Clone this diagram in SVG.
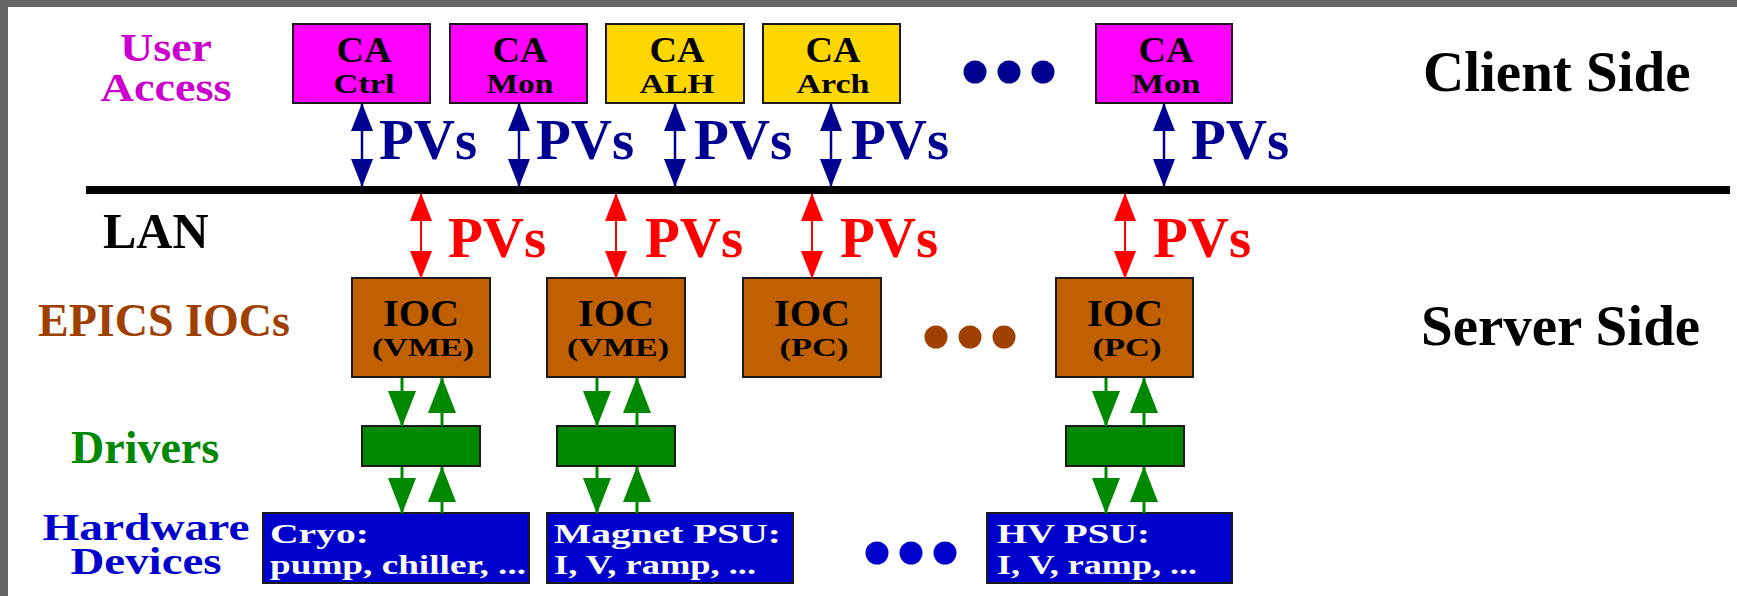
<svg xmlns="http://www.w3.org/2000/svg" width="1737" height="596" viewBox="0 0 1737 596">
<style>
text{font-family:"Liberation Serif","Times New Roman",serif;font-weight:bold}
.box{stroke:#1a1a1a;stroke-width:2}
.ca{fill:#ff00ff}.alh{fill:#ffd700}.ioc{fill:#c06000}.drv{fill:#008800}.dev{fill:#0000cc}
.t1{font-size:36px;text-anchor:middle;fill:#000}
.t2{font-size:28px;text-anchor:middle;fill:#000}
.i1{font-size:38px;text-anchor:middle;fill:#000}
.i2{font-size:26px;text-anchor:middle;fill:#000}
.dt{font-size:28px;fill:#fff}
.pvb{font-size:57px;fill:#000090}
.pvr{font-size:57px;fill:#ff0000}
.side{font-size:57px;fill:#000}
.cb{stroke:#000090;stroke-width:2.5;fill:none;marker-start:url(#ab);marker-end:url(#ab)}
.cr{stroke:#ff0000;stroke-width:2;fill:none;marker-start:url(#ar);marker-end:url(#ar)}
.cg{stroke:#008800;stroke-width:3;fill:none;marker-end:url(#ag)}
</style>
<defs>
<marker id="ab" viewBox="0 0 28 22" refX="27" refY="11" markerWidth="28" markerHeight="22" markerUnits="userSpaceOnUse" orient="auto-start-reverse"><path d="M0,0 L28,11 L0,22 z" fill="#000090"/></marker>
<marker id="ar" viewBox="0 0 28 22" refX="27" refY="11" markerWidth="28" markerHeight="22" markerUnits="userSpaceOnUse" orient="auto-start-reverse"><path d="M0,0 L28,11 L0,22 z" fill="#ff0000"/></marker>
<marker id="ag" viewBox="0 0 36 28" refX="35" refY="14" markerWidth="36" markerHeight="28" markerUnits="userSpaceOnUse" orient="auto"><path d="M0,0 L36,14 L0,28 z" fill="#008800"/></marker>
</defs>
<rect x="0" y="0" width="1737" height="596" fill="#ffffff"/>
<rect x="0" y="0" width="1737" height="7" fill="#666666"/>
<rect x="0" y="0" width="8" height="596" fill="#666666"/>

<g id="labels">
<text x="166" y="61" font-size="40" fill="#cc00cc" text-anchor="middle" textLength="92" lengthAdjust="spacingAndGlyphs">User</text>
<text x="166" y="101" font-size="40" fill="#cc00cc" text-anchor="middle" textLength="131" lengthAdjust="spacingAndGlyphs">Access</text>
<text x="103" y="248" font-size="50" fill="#000">LAN</text>
<text x="38" y="336" font-size="46" fill="#a04000">EPICS IOCs</text>
<text x="71" y="463" font-size="46" fill="#008800">Drivers</text>
<text x="146" y="540" font-size="38" fill="#0000cc" text-anchor="middle" textLength="207" lengthAdjust="spacingAndGlyphs">Hardware</text>
<text x="146" y="574" font-size="38" fill="#0000cc" text-anchor="middle" textLength="151" lengthAdjust="spacingAndGlyphs">Devices</text>
<text class="side" x="1423" y="91">Client Side</text>
<text class="side" x="1421" y="345" font-size="58">Server Side</text>
</g>

<g id="lan"><rect x="86" y="186" width="1644" height="8" fill="#000"/></g>

<g id="ca-ctrl"><rect class="box ca" x="293" y="24" width="137" height="79"/><text class="t1" x="364" y="62" textLength="55" lengthAdjust="spacingAndGlyphs">CA</text><text class="t2" x="364" y="93" textLength="61" lengthAdjust="spacingAndGlyphs">Ctrl</text></g>
<g id="ca-mon1"><rect class="box ca" x="450" y="24" width="137" height="79"/><text class="t1" x="520" y="62" textLength="55" lengthAdjust="spacingAndGlyphs">CA</text><text class="t2" x="520" y="93" textLength="67" lengthAdjust="spacingAndGlyphs">Mon</text></g>
<g id="ca-alh"><rect class="box alh" x="606" y="24" width="138" height="79"/><text class="t1" x="677" y="62" textLength="55" lengthAdjust="spacingAndGlyphs">CA</text><text class="t2" x="677" y="93" textLength="75" lengthAdjust="spacingAndGlyphs">ALH</text></g>
<g id="ca-arch"><rect class="box alh" x="763" y="24" width="137" height="79"/><text class="t1" x="833" y="62" textLength="55" lengthAdjust="spacingAndGlyphs">CA</text><text class="t2" x="833" y="93" textLength="73" lengthAdjust="spacingAndGlyphs">Arch</text></g>
<g id="ca-dots" fill="#000090"><circle cx="975" cy="72" r="11.5"/><circle cx="1009" cy="72" r="11.5"/><circle cx="1043" cy="72" r="11.5"/></g>
<g id="ca-mon2"><rect class="box ca" x="1096" y="24" width="136" height="79"/><text class="t1" x="1166" y="62" textLength="55" lengthAdjust="spacingAndGlyphs">CA</text><text class="t2" x="1166" y="93" textLength="69" lengthAdjust="spacingAndGlyphs">Mon</text></g>

<g id="ioc1"><rect class="box ioc" x="352" y="278" width="138" height="99"/><text class="i1" x="421" y="326" textLength="76" lengthAdjust="spacingAndGlyphs">IOC</text><text class="i2" x="423" y="356" textLength="102" lengthAdjust="spacingAndGlyphs">(VME)</text></g>
<g id="ioc2"><rect class="box ioc" x="547" y="278" width="138" height="99"/><text class="i1" x="616" y="326" textLength="76" lengthAdjust="spacingAndGlyphs">IOC</text><text class="i2" x="618" y="356" textLength="102" lengthAdjust="spacingAndGlyphs">(VME)</text></g>
<g id="ioc3"><rect class="box ioc" x="743" y="278" width="138" height="99"/><text class="i1" x="812" y="326" textLength="76" lengthAdjust="spacingAndGlyphs">IOC</text><text class="i2" x="814" y="356" textLength="69" lengthAdjust="spacingAndGlyphs">(PC)</text></g>
<g id="ioc-dots" fill="#a04000"><circle cx="936" cy="337" r="11.5"/><circle cx="970" cy="337" r="11.5"/><circle cx="1004" cy="337" r="11.5"/></g>
<g id="ioc4"><rect class="box ioc" x="1056" y="278" width="137" height="99"/><text class="i1" x="1125" y="326" textLength="76" lengthAdjust="spacingAndGlyphs">IOC</text><text class="i2" x="1127" y="356" textLength="69" lengthAdjust="spacingAndGlyphs">(PC)</text></g>

<g id="drv1"><rect class="box drv" x="362" y="426" width="118" height="40"/></g>
<g id="drv2"><rect class="box drv" x="557" y="426" width="118" height="40"/></g>
<g id="drv3"><rect class="box drv" x="1066" y="426" width="118" height="40"/></g>

<g id="dev1"><rect class="box dev" x="263" y="513" width="266" height="70"/><text class="dt" x="270" y="543" textLength="99" lengthAdjust="spacingAndGlyphs">Cryo:</text><text class="dt" x="270" y="574" textLength="256" lengthAdjust="spacingAndGlyphs">pump, chiller, ...</text></g>
<g id="dev2"><rect class="box dev" x="547" y="513" width="246" height="70"/><text class="dt" x="554" y="543" textLength="227" lengthAdjust="spacingAndGlyphs">Magnet PSU:</text><text class="dt" x="554" y="574" textLength="202" lengthAdjust="spacingAndGlyphs">I, V, ramp, ...</text></g>
<g id="dev-dots" fill="#0000cc"><circle cx="877" cy="553" r="11.5"/><circle cx="911" cy="553" r="11.5"/><circle cx="945" cy="553" r="11.5"/></g>
<g id="dev3"><rect class="box dev" x="987" y="513" width="245" height="70"/><text class="dt" x="997" y="543" textLength="153" lengthAdjust="spacingAndGlyphs">HV PSU:</text><text class="dt" x="997" y="574" textLength="200" lengthAdjust="spacingAndGlyphs">I, V, ramp, ...</text></g>

<g id="connectors">
<path class="cb" d="M362,104 V186"/>
<path class="cb" d="M519,104 V186"/>
<path class="cb" d="M675,104 V186"/>
<path class="cb" d="M831,104 V186"/>
<path class="cb" d="M1164,104 V186"/>
<path class="cr" d="M421,194 V278"/>
<path class="cr" d="M616,194 V278"/>
<path class="cr" d="M812,194 V278"/>
<path class="cr" d="M1125,194 V278"/>
<path class="cg" d="M402,378 V426"/>
<path class="cg" d="M442,426 V378"/>
<path class="cg" d="M402,467 V513"/>
<path class="cg" d="M442,513 V467"/>
<path class="cg" d="M597,378 V426"/>
<path class="cg" d="M637,426 V378"/>
<path class="cg" d="M597,467 V513"/>
<path class="cg" d="M637,513 V467"/>
<path class="cg" d="M1106,378 V426"/>
<path class="cg" d="M1144,426 V378"/>
<path class="cg" d="M1106,467 V513"/>
<path class="cg" d="M1144,513 V467"/>
</g>

<g id="pv-labels">
<text class="pvb" x="379" y="159">PVs</text>
<text class="pvb" x="536" y="159">PVs</text>
<text class="pvb" x="694" y="159">PVs</text>
<text class="pvb" x="851" y="159">PVs</text>
<text class="pvb" x="1191" y="159">PVs</text>
<text class="pvr" x="448" y="257">PVs</text>
<text class="pvr" x="645" y="257">PVs</text>
<text class="pvr" x="840" y="257">PVs</text>
<text class="pvr" x="1153" y="257">PVs</text>
</g>
</svg>
